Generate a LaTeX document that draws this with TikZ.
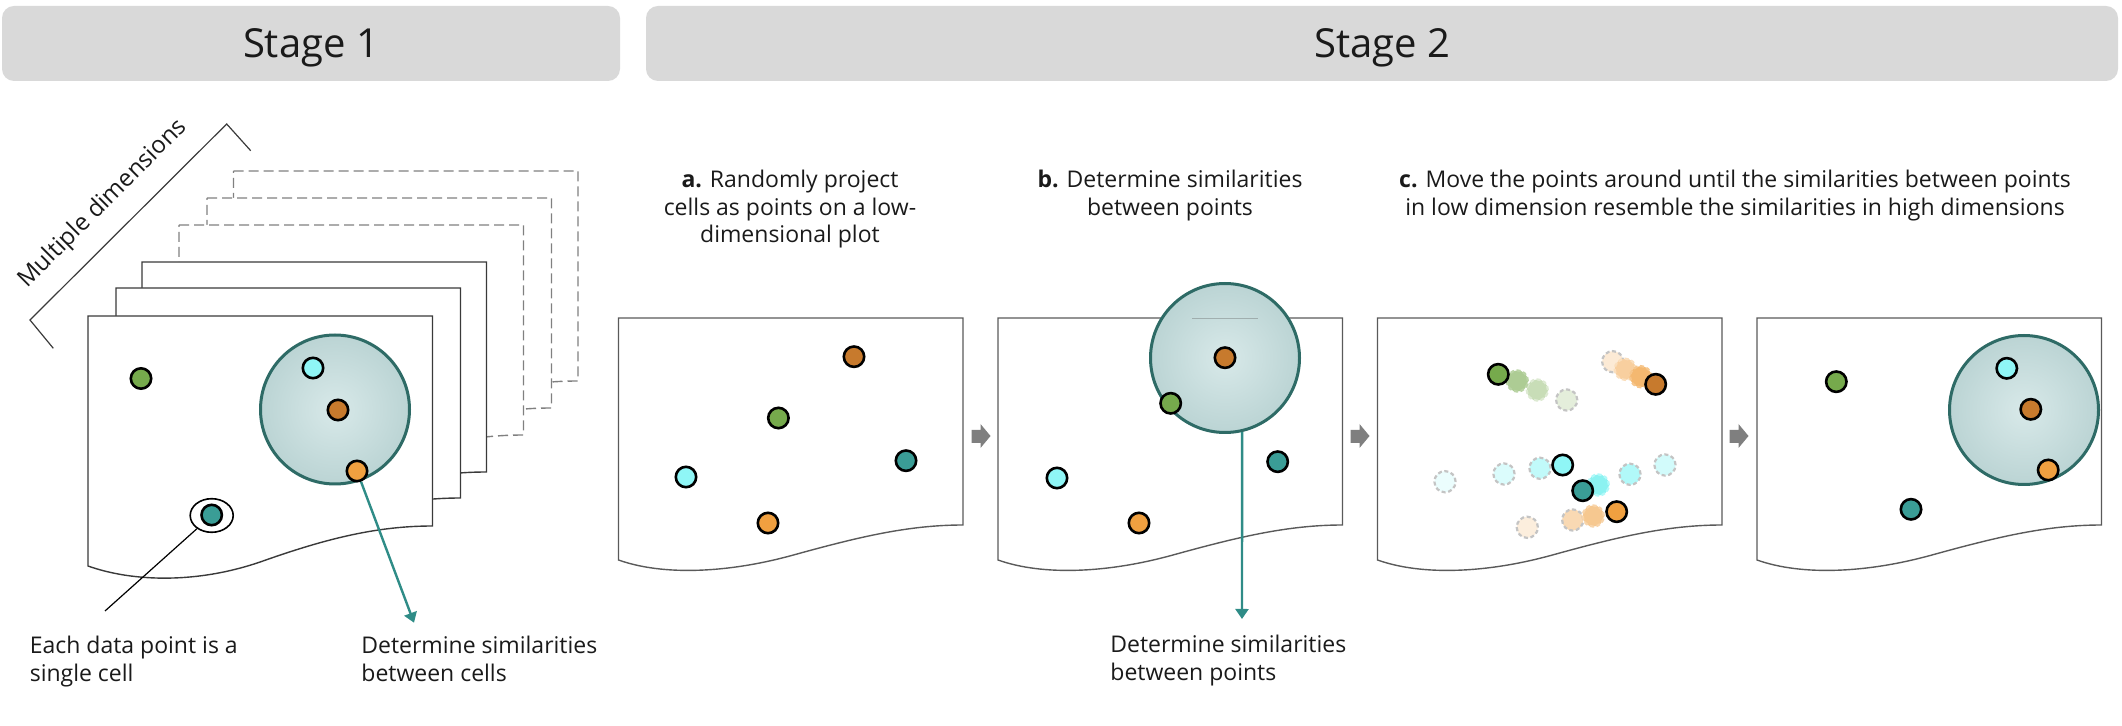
\documentclass[tikz,border=0pt]{standalone}
\usepackage{fontspec}
\setmainfont{Open Sans}
\usetikzlibrary{shapes.geometric,arrows.meta}
\definecolor{barfill}{HTML}{D9D9D9}
\definecolor{txt}{HTML}{1A1A1A}
\definecolor{cardline}{HTML}{3A3A3A}
\definecolor{dashline}{HTML}{808080}
\definecolor{panelline}{HTML}{5A5A5A}
\definecolor{flowgray}{HTML}{7F7F7F}
\definecolor{cgreen}{HTML}{76AA4C}
\definecolor{ccyan}{HTML}{8FF6F6}
\definecolor{cbrown}{HTML}{C77A2D}
\definecolor{corange}{HTML}{F0A040}
\definecolor{cteal}{HTML}{3A9D96}
\definecolor{simedge}{HTML}{2E6B66}
\definecolor{siminner}{HTML}{D8E9E9}
\definecolor{simouter}{HTML}{BBD4D4}
\definecolor{tealline}{HTML}{2F8C87}
\definecolor{fadeline}{HTML}{C4C4C4}

% document-like sheet: style, x, y, left height, right height
\newcommand{\docshape}[5]{%
  \begin{scope}[shift={(#2,#3)}]
    \path[#1] (0,0) -- (344.5,0) -- (344.5,#5)
      .. controls (290,#5) and (240,#5+12) .. (175,#4-5)
      .. controls (110,2*#4-#5-22) and (45,#4+16) .. (0,#4) -- cycle;
  \end{scope}}
% grey block arrow starting at x
\newcommand{\flowarrow}[1]{%
  \fill[flowgray] (#1,430) -- (#1+9,430) -- (#1+9,424) -- (#1+19,436)
    -- (#1+9,448) -- (#1+9,443) -- (#1,443) -- cycle;}

\tikzset{
  stagebar/.style={fill=barfill, rounded corners=6pt, inner sep=0pt,
    minimum height=37.5pt, text height=14.3pt, text depth=0pt, text=txt,
    font=\fontsize{20pt}{24pt}\selectfont},
  celldot/.style={circle, draw=black, line width=1.3pt, minimum size=10.2pt,
    inner sep=0pt},
  fadedot/.style={circle, line width=1.1pt, minimum size=10.6pt, inner sep=0pt,
    dash pattern=on 2pt off 1.3pt},
  simcircle/.style={circle, draw=simedge, line width=1.5pt, inner color=siminner,
    outer color=simouter, minimum size=74.5pt, inner sep=0pt},
  doccard/.style={draw=cardline, fill=white, line width=0.7pt},
  dashcard/.style={draw=dashline, fill=white, line width=0.7pt,
    dash pattern=on 5pt off 2.5pt},
  docpanel/.style={draw=panelline, fill=white, line width=0.7pt},
  lbl/.style={align=left, anchor=base west, inner sep=0pt, text=txt,
    font=\fontsize{11.5pt}{13.8pt}\selectfont},
  steptitle/.style={align=center, anchor=base, inner sep=0pt, text=txt,
    font=\fontsize{11.5pt}{13.8pt}\selectfont},
  tealarrow/.style={draw=tealline, line width=1.2pt,
    -{Triangle[width=6.5pt,length=5pt]}},
}

\begin{document}
\begin{tikzpicture}[x=0.5pt,y=-0.5pt]
\useasboundingbox (0,0) rectangle (2122,726);

% ---------- stage headers ----------
\node[stagebar, minimum width=309pt] (st1) at (311,43.5) {Stage 1};
\node[stagebar, minimum width=736pt] (st2) at (1382,43.5) {Stage 2};

% ---------- stage 1 ----------
\coordinate (brA) at (53.3,348.3);
\coordinate (brB) at (30,320);
\coordinate (brC) at (226.7,124);
\coordinate (brD) at (250.7,150.7);
\draw[cardline, line width=0.6pt] (brA) -- (brB) -- (brC) -- (brD);
\node[text=txt, rotate=45, inner sep=0pt, font=\fontsize{12pt}{14pt}\selectfont]
  (mdim) at (103,204) {Multiple dimensions};

\docshape{dashcard}{233.5}{171}{250}{210}
\docshape{dashcard}{207}{198}{250}{210}
\docshape{dashcard}{179}{225}{250}{210}
\docshape{doccard}{142}{262}{250}{210}
\docshape{doccard}{116}{288}{250}{210}
\docshape{doccard}{88}{316}{250}{210}

\node[simcircle] (s1sim) at (335,409.5) {};
\node[celldot, fill=cgreen] (s1g) at (141,378.5) {};
\node[celldot, fill=ccyan] (s1c) at (313,368) {};
\node[celldot, fill=cbrown] (s1b) at (338,410) {};
\node[celldot, fill=corange] (s1o) at (357,471) {};
\node[ellipse, draw=black, fill=white, line width=0.8pt, minimum width=21.5pt,
  minimum height=16.8pt, inner sep=0pt] (s1ring) at (211.7,515.5) {};
\node[celldot, fill=cteal] (s1t) at (211.7,515) {};

\coordinate (p1) at (105,611);
\coordinate (t1) at (414,622.7);
\draw[black, line width=0.6pt] (s1ring) -- (p1);
\draw[tealarrow] (s1o) -- (t1);

% anchors sit on the baseline of the last line
\node[lbl] (l1) at (29.4,681.5) {Each data point is a\\single cell};
\node[lbl] (l2) at (361,681.5) {Determine similarities\\between cells};

% ---------- stage 2 titles ----------
\node[steptitle] (ta) at (790,243)
  {\textbf{a.} Randomly project\\cells as points on a low-\\dimensional plot};
\node[steptitle] (tb) at (1170,215.5)
  {\textbf{b.} Determine similarities\\between points};
\node[steptitle] (tc) at (1735,215.5)
  {\textbf{c.} Move the points around until the similarities between points\\in low dimension resemble the similarities in high dimensions};

% ---------- panels ----------
\docshape{docpanel}{618.5}{318}{242}{207}
\docshape{docpanel}{998}{318}{242}{207}
\docshape{docpanel}{1377.5}{318}{242}{207}
\docshape{docpanel}{1757}{318}{242}{207}

\flowarrow{971.5}
\flowarrow{1350.5}
\flowarrow{1729.5}

% panel a
\node[celldot, fill=cbrown] (ab) at (854,356.7) {};
\node[celldot, fill=cgreen] (ag) at (778.4,418) {};
\node[celldot, fill=cteal] (at) at (906,460.7) {};
\node[celldot, fill=ccyan] (ac) at (686,477) {};
\node[celldot, fill=corange] (ao) at (768,523) {};

% panel b
\node[simcircle] (bsim) at (1225,358) {};
\draw[panelline, opacity=0.35, line width=0.6pt] (1192,318.3) -- (1258,318.3);
\node[celldot, fill=cbrown] (bb) at (1225,357.7) {};
\node[celldot, fill=cgreen] (bg) at (1170.7,403.3) {};
\node[celldot, fill=cteal] (bt) at (1277.7,461.7) {};
\node[celldot, fill=ccyan] (bc) at (1057,478) {};
\node[celldot, fill=corange] (bo) at (1139,523) {};
\coordinate (tb2) at (1242,619);
\draw[tealarrow] (bsim.-77) -- (tb2);
\node[lbl] (l3) at (1110,680.5) {Determine similarities\\between points};

% panel c : faded trails
\node[fadedot, fill=cgreen!20, draw=fadeline] (fg3) at (1566.7,400) {};
\node[fadedot, fill=cgreen!40, draw=cgreen!25] (fg2) at (1537.3,390) {};
\node[fadedot, fill=cgreen!60, draw=cgreen!50] (fg1) at (1517.3,381) {};
\node[fadedot, fill=corange!22, draw=fadeline] (fb3) at (1612.7,361.7) {};
\node[fadedot, fill=corange!50, draw=corange!35] (fb2) at (1625.3,369.3) {};
\node[fadedot, fill=corange!75, draw=corange!60] (fb1) at (1640.7,376.7) {};
\node[fadedot, fill=ccyan!18, draw=fadeline] (fc1) at (1445,481.7) {};
\node[fadedot, fill=ccyan!32, draw=fadeline] (fc2) at (1504,474) {};
\node[fadedot, fill=ccyan!55, draw=fadeline] (fc3) at (1540,468.3) {};
\node[fadedot, fill=ccyan!70, draw=fadeline] (fc5) at (1630,474.3) {};
\node[fadedot, fill=ccyan!40, draw=fadeline] (fc6) at (1665,465) {};
\node[fadedot, fill=ccyan!95!cteal, draw=ccyan!70] (fc4) at (1598.3,485) {};
\node[fadedot, fill=corange!18, draw=fadeline] (fo3) at (1527.3,527.3) {};
\node[fadedot, fill=corange!40, draw=fadeline] (fo2) at (1572.7,520) {};
\node[fadedot, fill=corange!58, draw=corange!45] (fo1) at (1593.3,516) {};
% panel c : current positions
\node[celldot, fill=cgreen] (cg) at (1498.3,374.3) {};
\node[celldot, fill=cbrown] (cb) at (1655.7,384.3) {};
\node[celldot, fill=ccyan] (cc) at (1562.7,465) {};
\node[celldot, fill=cteal] (ct) at (1582.7,490.7) {};
\node[celldot, fill=corange] (co) at (1616.7,511.7) {};

% panel d
\node[simcircle] (dsim) at (2024,410) {};
\node[celldot, fill=cgreen] (dg) at (1836.3,381.7) {};
\node[celldot, fill=ccyan] (dc) at (2006.8,368.3) {};
\node[celldot, fill=cbrown] (db) at (2030.8,409.3) {};
\node[celldot, fill=corange] (do) at (2048.2,470) {};
\node[celldot, fill=cteal] (dt) at (1911,509.3) {};
\end{tikzpicture}
\end{document}
